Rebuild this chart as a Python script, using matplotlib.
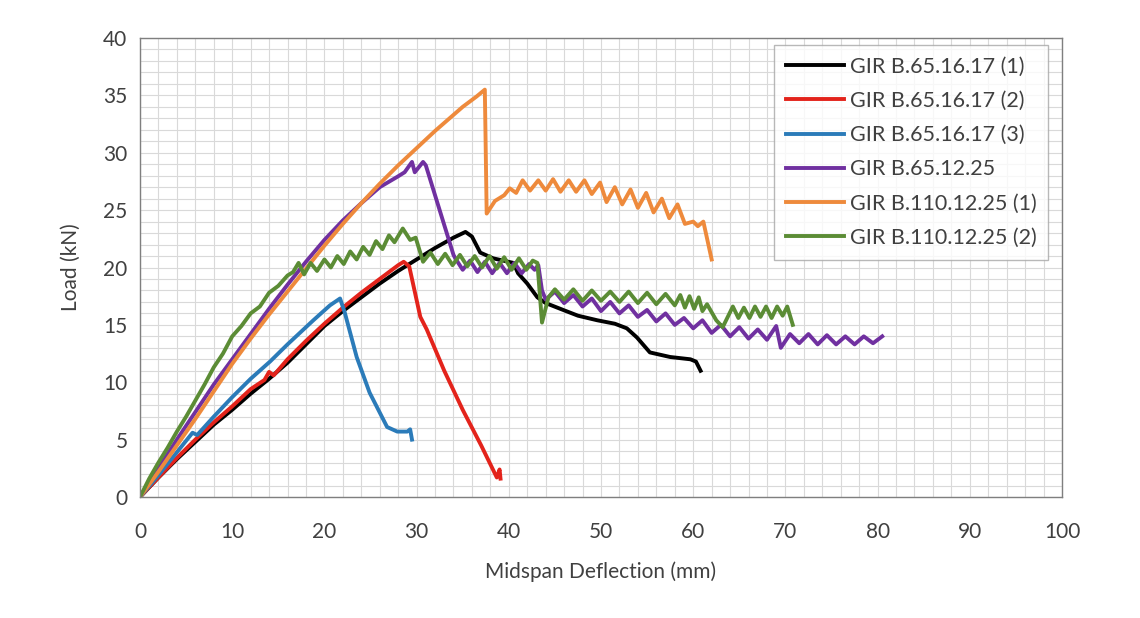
import matplotlib.pyplot as plt
from matplotlib.ticker import MultipleLocator

plt.rcParams['font.family'] = ['Lato', 'DejaVu Sans']

# ---- data (deflection mm, load kN) ----
labels = ['GIR B.65.16.17 (1)', 'GIR B.65.16.17 (2)', 'GIR B.65.16.17 (3)',
          'GIR B.65.12.25', 'GIR B.110.12.25 (1)', 'GIR B.110.12.25 (2)']
colors = ['#000000', '#E3231B', '#2B7BB9', '#7030A0', '#EE8A3C', '#5B8C35']

black_x = [0, 2, 4, 6, 8, 10, 12, 14, 16, 18, 20, 22, 24, 26, 28, 30, 32, 34, 35.3,
           36.0, 36.9, 38.3, 40.5, 41.0, 42.0, 43.1, 44.0, 45.9, 47.5, 49.6, 51.5,
           52.8, 53.9, 55.3, 57.5, 59.7, 60.3, 60.8]
black_y = [0, 1.7, 3.3, 4.8, 6.3, 7.6, 9.0, 10.3, 11.7, 13.3, 14.9, 16.2, 17.4, 18.6,
           19.7, 20.7, 21.7, 22.6, 23.1, 22.7, 21.3, 20.8, 20.4, 19.5, 18.6, 17.4,
           16.9, 16.3, 15.8, 15.4, 15.1, 14.7, 13.9, 12.6, 12.2, 12.0, 11.8, 11.0]

red_x = [0, 2, 4, 6, 8, 10, 12, 13.5, 14.0, 14.5, 16, 18, 20, 22, 24, 26, 28, 28.6,
         29.2, 30.4, 31.1, 33, 35, 37, 38.7, 39.0, 39.1]
red_y = [0, 1.7, 3.4, 5.0, 6.5, 7.9, 9.4, 10.2, 10.9, 10.6, 12.0, 13.6, 15.1, 16.5,
         17.8, 19.0, 20.2, 20.5, 20.1, 15.7, 14.6, 11.0, 7.6, 4.5, 1.7, 2.4, 1.6]

blue_x = [0, 2, 4, 5.7, 6.2, 8, 10, 12, 14.1, 16, 18.8, 20.6, 21.7, 22.2, 23.5, 24.9,
          26.8, 27.9, 29.0, 29.3, 29.5]
blue_y = [0, 1.9, 3.9, 5.6, 5.4, 7.0, 8.7, 10.3, 11.8, 13.3, 15.4, 16.7, 17.3, 16.1,
          12.2, 9.1, 6.1, 5.7, 5.7, 5.9, 5.0]

purple_x = [0, 2, 4, 6, 8, 10, 12, 14, 16, 18, 20, 22, 24, 26, 27.9, 28.7, 29.5, 29.8,
            30.7, 31.0, 34.0, 34.2, 35.0, 35.8, 36.6, 37.4, 38.2, 39.0, 39.8, 40.6,
            41.4, 42.2, 42.8, 43.2, 43.6, 44.0, 45, 46, 47, 48, 49, 50, 51, 52, 53,
            54, 55, 56, 57, 58, 59, 60, 61, 62, 63, 64, 65, 66, 67, 68, 69, 69.5,
            70.5, 71.5, 72.5, 73.5, 74.5, 75.5, 76.5, 77.5, 78.5, 79.5, 80.5]
purple_y = [0, 2.5, 5.0, 7.4, 9.8, 12.0, 14.2, 16.4, 18.5, 20.5, 22.4, 24.1, 25.6,
            27.0, 27.9, 28.3, 29.2, 28.3, 29.2, 28.9, 21.1, 20.8, 19.8, 20.6, 19.6,
            20.5, 19.5, 20.4, 19.5, 20.4, 19.5, 20.3, 19.8, 20.2, 18.0, 17.2, 17.9,
            16.9, 17.6, 16.6, 17.3, 16.2, 17.0, 16.0, 16.7, 15.7, 16.3, 15.3, 16.0,
            15.0, 15.6, 14.7, 15.4, 14.3, 15.0, 14.0, 14.8, 13.8, 14.6, 13.7, 14.9,
            13.0, 14.2, 13.4, 14.2, 13.3, 14.1, 13.3, 14.0, 13.3, 14.0, 13.4, 14.0]

orange_x = [0, 2, 4, 6, 8, 10, 12, 14, 16, 18, 20, 22, 24, 26, 28, 30, 32, 34, 35,
            36.5, 37.4, 37.6, 38.5, 39.5, 40.1, 40.8, 41.5, 42.3, 43.2, 44.0, 44.8,
            45.6, 46.5, 47.3, 48.2, 49.0, 49.9, 50.6, 51.5, 52.3, 53.2, 54.0, 54.9,
            55.7, 56.6, 57.4, 58.3, 59.1, 60.0, 60.5, 61.1, 62.0]
orange_y = [0, 2.2, 4.5, 6.8, 9.2, 11.6, 13.8, 15.9, 17.9, 19.9, 21.9, 23.8, 25.6,
            27.3, 28.9, 30.4, 31.9, 33.3, 34.0, 34.9, 35.5, 24.7, 25.8, 26.3, 26.9,
            26.5, 27.6, 26.7, 27.6, 26.7, 27.7, 26.6, 27.6, 26.6, 27.6, 26.4, 27.4,
            25.7, 27.0, 25.5, 26.8, 25.2, 26.5, 24.8, 26.0, 24.3, 25.5, 23.8, 24.0,
            23.6, 24.0, 20.7]

green_x = [0, 1, 2, 3, 4, 5, 6, 7, 8, 9, 10, 11, 12, 13, 14, 15, 16, 16.6, 17.2, 17.8,
           18.5, 19.2, 20.0, 20.7, 21.4, 22.1, 22.8, 23.5, 24.2, 24.9, 25.6, 26.3,
           27.0, 27.6, 28.5, 29.3, 29.9, 30.7, 31.5, 32.3, 33.1, 33.9, 34.7, 35.5,
           36.3, 37.1, 37.9, 38.7, 39.5, 40.3, 41.1, 41.9, 42.6, 43.1, 43.6, 44.3,
           45.0, 46.0, 47.0, 48.0, 49.0, 50.0, 51.0, 52.0, 53.0, 54.0, 55.0, 56.0,
           57.0, 58.0, 58.6, 59.1, 59.6, 60.1, 60.6, 61.0, 61.5, 62.5, 63.2, 64.3,
           64.9, 65.5, 66.1, 66.7, 67.3, 67.9, 68.5, 69.1, 69.7, 70.2, 70.8]
green_y = [0, 1.6, 3.0, 4.3, 5.7, 7.0, 8.4, 9.8, 11.3, 12.5, 14.0, 14.9, 16.0, 16.6,
           17.8, 18.4, 19.3, 19.6, 20.4, 19.4, 20.4, 19.7, 20.7, 20.0, 21.0, 20.3,
           21.4, 20.7, 21.8, 21.1, 22.3, 21.6, 22.8, 22.2, 23.4, 22.4, 22.6, 20.5,
           21.3, 20.3, 21.2, 20.2, 21.1, 20.1, 21.0, 20.0, 21.0, 19.9, 20.9, 19.8,
           20.8, 19.8, 20.6, 20.4, 15.2, 17.4, 18.1, 17.2, 18.1, 17.1, 18.0, 17.1,
           17.9, 17.0, 17.9, 16.9, 17.8, 16.8, 17.7, 16.7, 17.6, 16.5, 17.5, 16.4,
           17.4, 16.2, 16.8, 15.4, 14.8, 16.6, 15.6, 16.5, 15.6, 16.6, 15.7, 16.6,
           15.6, 16.6, 15.8, 16.6, 15.0]

series_x = [black_x, red_x, blue_x, purple_x, orange_x, green_x]
series_y = [black_y, red_y, blue_y, purple_y, orange_y, green_y]

# ---- figure ----
fig = plt.figure(figsize=(11.4, 6.18), dpi=100)
ax = fig.add_axes([0.1228, 0.1958, 0.8088, 0.7427])

for xs, ys, c, lab in zip(series_x, series_y, colors, labels):
    ax.plot(xs, ys, color=c, linewidth=2.8, label=lab, solid_joinstyle='round')

ax.set_xlim(0, 100)
ax.set_ylim(0, 40)
ax.xaxis.set_major_locator(MultipleLocator(10))
ax.xaxis.set_minor_locator(MultipleLocator(2))
ax.yaxis.set_major_locator(MultipleLocator(5))
ax.yaxis.set_minor_locator(MultipleLocator(1))
ax.grid(True, which='both', color='#D9D9D9', linewidth=0.8)
ax.set_axisbelow(True)
ax.tick_params(which='both', length=0, labelsize=15, colors='#404040')
ax.tick_params(axis='x', pad=18)
ax.tick_params(axis='y', pad=9)

for s in ax.spines.values():
    s.set_color('#7F7F7F')
    s.set_linewidth(1.0)

ax.set_xlabel('Midspan Deflection (mm)', fontsize=15, color='#404040', labelpad=14)
ax.set_ylabel('Load (kN)', fontsize=15, color='#404040', labelpad=16)

leg = ax.legend(loc='upper left', bbox_to_anchor=(0.688, 0.985), fontsize=15.5,
                frameon=True, fancybox=False, edgecolor='#A6A6A6',
                handlelength=2.7, handletextpad=0.25, labelspacing=0.66,
                borderpad=0.55, borderaxespad=0)
leg.get_frame().set_linewidth(1.0)
for t in leg.get_texts():
    t.set_color('#404040')

fig.savefig('out.png', dpi=100)
